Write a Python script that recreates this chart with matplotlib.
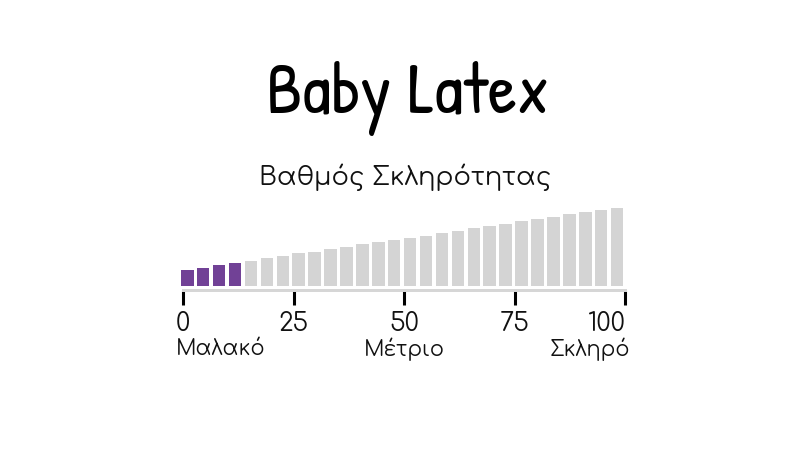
import numpy as np
import matplotlib
matplotlib.use("Agg")
import matplotlib.pyplot as plt
from matplotlib.transforms import blended_transform_factory

# ---- data ----
bar_heights = [16, 18.3, 21, 23.3, 25.3, 27.7, 30.3, 32.7, 34.3, 37, 39.3, 41.7, 44, 46,
               47.7, 50.3, 53.3, 55.3, 57.7, 60, 62.3, 64.7, 67, 69.3, 71.7, 74, 76, 78.3]
highlight_count = 4
tick_values = [0, 25, 50, 75, 100]
tick_labels = ["0", "25", "50", "75", "100"]
scale_labels = ["Μαλακό", "Μέτριο", "Σκληρό"]
title = "Baby Latex"
subtitle = "Βαθμός Σκληρότητας"

purple = "#714196"
gray = "#d4d4d4"
font = ["Comfortaa", "DejaVu Sans"]
title_font = ["Patrick Hand", "Comic Neue", "DejaVu Sans"]

W, H = 787, 450
fig = plt.figure(figsize=(W / 100, H / 100), dpi=100)
fig.patch.set_facecolor("white")

ax = fig.add_axes([183 / W, (H - 286) / H, (625 - 183) / W, 100 / H])
ax.set_xlim(0, 100)
ax.set_ylim(0, 100)

n = len(bar_heights)
left, right = -0.45, 100.4
pitch = (right - left) / n
bw = pitch * 0.785
colors = [purple if i < highlight_count else gray for i in range(n)]
ax.bar(left + pitch * np.arange(n), bar_heights, width=bw, align="edge",
       color=colors, clip_on=False, linewidth=0)

for s in ["top", "right", "left"]:
    ax.spines[s].set_visible(False)
ax.spines["bottom"].set_position(("outward", 4 * 0.72))
ax.spines["bottom"].set_color("#d6d6d6")
ax.spines["bottom"].set_linewidth(3 * 0.72)
ax.set_yticks([])
ax.set_xticks(tick_values)
ax.set_xticklabels([])
ax.tick_params(axis="x", direction="out", length=10.5, width=2.2, color="black")

trans = blended_transform_factory(ax.transData, fig.transFigure)
for v, lab in zip(tick_values, tick_labels):
    ha = "right" if v == 100 else "center"
    x = v + 0.2 if v == 100 else v
    ax.text(x, 1 - 324 / H, lab, transform=trans, ha=ha, va="center",
            fontsize=18, family=font, color="#111111")

ax.text(-1.6, 1 - 349 / H, scale_labels[0], transform=trans, ha="left", va="center",
        fontsize=15, family=font, color="#111111")
ax.text(50, 1 - 349 / H, scale_labels[1], transform=trans, ha="center", va="center",
        fontsize=15, family=font, color="#111111")
ax.text(101.2, 1 - 349 / H, scale_labels[2], transform=trans, ha="right", va="center",
        fontsize=15, family=font, color="#111111")

fig.text(408 / W, 1 - 113 / H, title, ha="center", va="baseline", fontsize=52,
         family=title_font, color="black")
fig.text(405 / W, 1 - 177 / H, subtitle, ha="center", va="center", fontsize=18.5,
         family=font, color="#111111")

fig.savefig("out.png", dpi=100, facecolor="white")
